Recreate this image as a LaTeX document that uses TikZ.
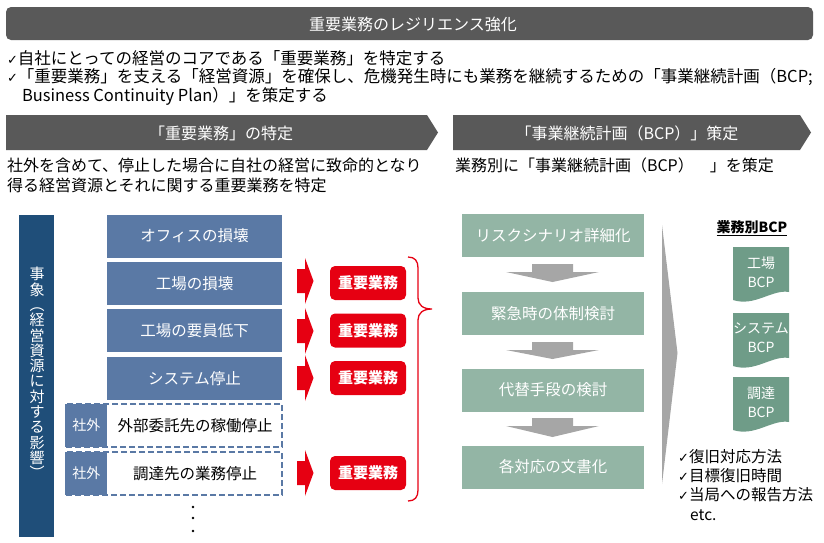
\documentclass[tikz,border=0pt]{standalone}
\usepackage{fontspec}
\setmainfont{Noto Sans CJK JP}
\newfontfamily\dv{DejaVu Sans}
\usetikzlibrary{calc}
\definecolor{dgray}{HTML}{595959}
\definecolor{navy}{HTML}{1F4E79}
\definecolor{steel}{HTML}{5A79A5}
\definecolor{jred}{HTML}{E60012}
\definecolor{sage}{HTML}{93B5A5}
\definecolor{docgreen}{HTML}{6F9C88}
\definecolor{arrgray}{HTML}{A6A6A6}
\newcommand{\ck}{{\dv\fontsize{13}{13}\selectfont ✓}}
\begin{document}
\begin{tikzpicture}[x=1pt,y=-1pt,
  txt/.style={inner sep=0pt, outer sep=0pt, font=\fontsize{16}{19}\selectfont},
  bluebox/.style={fill=steel, text=white, minimum width=175pt, minimum height=43pt, inner sep=0pt, font=\fontsize{15.5}{15.5}\selectfont},
  outbox/.style={draw=steel, line width=1.5pt, dash pattern=on 6pt off 3pt, minimum width=216pt, minimum height=43pt, inner sep=0pt},
  outlabel/.style={fill=steel, text=white, minimum width=42pt, minimum height=43pt, inner sep=0pt, font=\fontsize{14}{14}\selectfont},
  redbox/.style={fill=jred, text=white, rounded corners=5pt, minimum width=76pt, minimum height=34pt, inner sep=0pt, font=\bfseries\fontsize{15}{15}\selectfont},
  greenbox/.style={fill=sage, text=white, minimum width=182pt, minimum height=43pt, inner sep=0pt, font=\fontsize{15.5}{15.5}\selectfont},
  doctext/.style={text=white, align=center, inner sep=0pt, font=\fontsize{14}{19}\selectfont},
  chk/.style={anchor=west, inner sep=0pt, font=\fontsize{15.5}{15.5}\selectfont}
]
\useasboundingbox (0,0) rectangle (824,542);

% top bar
\fill[dgray, rounded corners=5pt] (6,7) rectangle (813,40);
\node[txt, text=white] (title) at (413,24) {重要業務のレジリエンス強化};

\node[txt, anchor=west, font=\fontsize{16.5}{19}\selectfont] (l1) at (7,58) {\ck 自社にとっての経営のコアである「重要業務」を特定する};
\node[txt, anchor=west, font=\fontsize{16.5}{19}\selectfont] (l2) at (7,77) {\ck「重要業務」を支える「経営資源」を確保し、危機発生時にも業務を継続するための「事業継続計画（BCP;};
\node[txt, anchor=west, font=\fontsize{16.5}{19}\selectfont] (l3) at (22,96) {Business Continuity Plan）」を策定する};

% chevrons
\fill[dgray] (6,115) -- (427,115) -- (438,132.5) -- (427,150) -- (6,150) -- cycle;
\node[txt, text=white] (ch1) at (221,133) {「重要業務」の特定};
\fill[dgray] (453,115) -- (800,115) -- (811,132.5) -- (800,150) -- (453,150) -- cycle;
\node[txt, text=white] (ch2) at (627,133) {「事業継続計画（BCP）」策定};

\node[txt, anchor=west] (s1) at (7,165) {社外を含めて、停止した場合に自社の経営に致命的となり};
\node[txt, anchor=west] (s2) at (7,185) {得る経営資源とそれに関する重要業務を特定};
\node[txt, anchor=west] (s3) at (455,165) {業務別に「事業継続計画（BCP）　」を策定};

% left vertical bar
\fill[navy] (19,215) rectangle (54,537);
\node[text=white, align=center, inner sep=0pt, font=\fontsize{15}{15.3}\selectfont] (ev) at (37,373)
  {事\\象\\︵\\経\\営\\資\\源\\に\\対\\す\\る\\影\\響\\︶};

% blue boxes
\node[bluebox] (b1) at (194.5,236) {オフィスの損壊};
\node[bluebox] (b2) at (194.5,283.5) {工場の損壊};
\node[bluebox] (b3) at (194.5,330.5) {工場の要員低下};
\node[bluebox] (b4) at (194.5,378.5) {システム停止};
\node[outbox] (o1) at (174,425.5) {};
\node[outlabel, anchor=west] (o1l) at (o1.west) {社外};
\node[font=\fontsize{15.5}{15.5}\selectfont, inner sep=0pt] (o1t) at (195,425.5) {外部委託先の稼働停止};
\node[outbox] (o2) at (174,473.5) {};
\node[outlabel, anchor=west] (o2l) at (o2.west) {社外};
\node[font=\fontsize{15.5}{15.5}\selectfont, inner sep=0pt] (o2t) at (195,473.5) {調達先の業務停止};
\foreach \yy in {507,518,531} \fill (193,\yy) circle (1.3pt);

% red arrows
\foreach \yy in {281,331,378,473}
  \fill[jred] (297,\yy-12) -- (305,\yy-12) -- (305,\yy-23) -- (313.5,\yy) -- (305,\yy+23) -- (305,\yy+12) -- (297,\yy+12) -- cycle;

% red boxes
\node[redbox] (r1) at (368,283) {重要業務};
\node[redbox] (r2) at (368,330.5) {重要業務};
\node[redbox] (r3) at (368,378) {重要業務};
\node[redbox] (r4) at (368,473) {重要業務};

% brace
\draw[jred, line width=1.3pt] (408,257) .. controls (415,257) and (418,261) .. (418,268) -- (418,298)
  .. controls (418,305) and (423,309) .. (432,309) .. controls (423,309) and (418,313) .. (418,320)
  -- (418,490) .. controls (418,497) and (415,501) .. (408,501);

% green boxes
\node[greenbox] (g1) at (553,235.5) {リスクシナリオ詳細化};
\node[greenbox] (g2) at (553,313.5) {緊急時の体制検討};
\node[greenbox] (g3) at (553,390) {代替手段の検討};
\node[greenbox] (g4) at (553,467) {各対応の文書化};
\foreach \ya/\yb in {264/282, 342/359, 418/437}
  \fill[arrgray] (532,\ya) -- (573,\ya) -- (573,\ya+8) -- (599,\ya+8) -- (552.5,\yb) -- (506,\ya+8) -- (532,\ya+8) -- cycle;

% big gray chevron
\fill[arrgray] (662,225) -- (677.5,353) -- (662,484) -- cycle;

% BCP documents
\node[inner sep=0pt, font=\bfseries\fontsize{14}{14}\selectfont] (bh) at (752,228) {\underline{業務別BCP}};
\foreach \yt in {247, 313, 377}
  \fill[docgreen] (733,\yt) -- (789,\yt) -- (789,\yt+45) .. controls (772,\yt+42) and (755,\yt+60) .. (733,\yt+53) -- cycle;
\node[doctext] (t1) at (761,272) {工場\\BCP};
\node[doctext] (t2) at (761,338) {システム\\BCP};
\node[doctext] (t3) at (761,402) {調達\\BCP};

% checklist
\node[chk] (c1) at (678,457) {\ck 復旧対応方法};
\node[chk] (c2) at (678,476) {\ck 目標復旧時間};
\node[chk] (c3) at (678,495) {\ck 当局への報告方法};
\node[chk] (c4) at (690,515) {etc.};
\end{tikzpicture}
\end{document}
